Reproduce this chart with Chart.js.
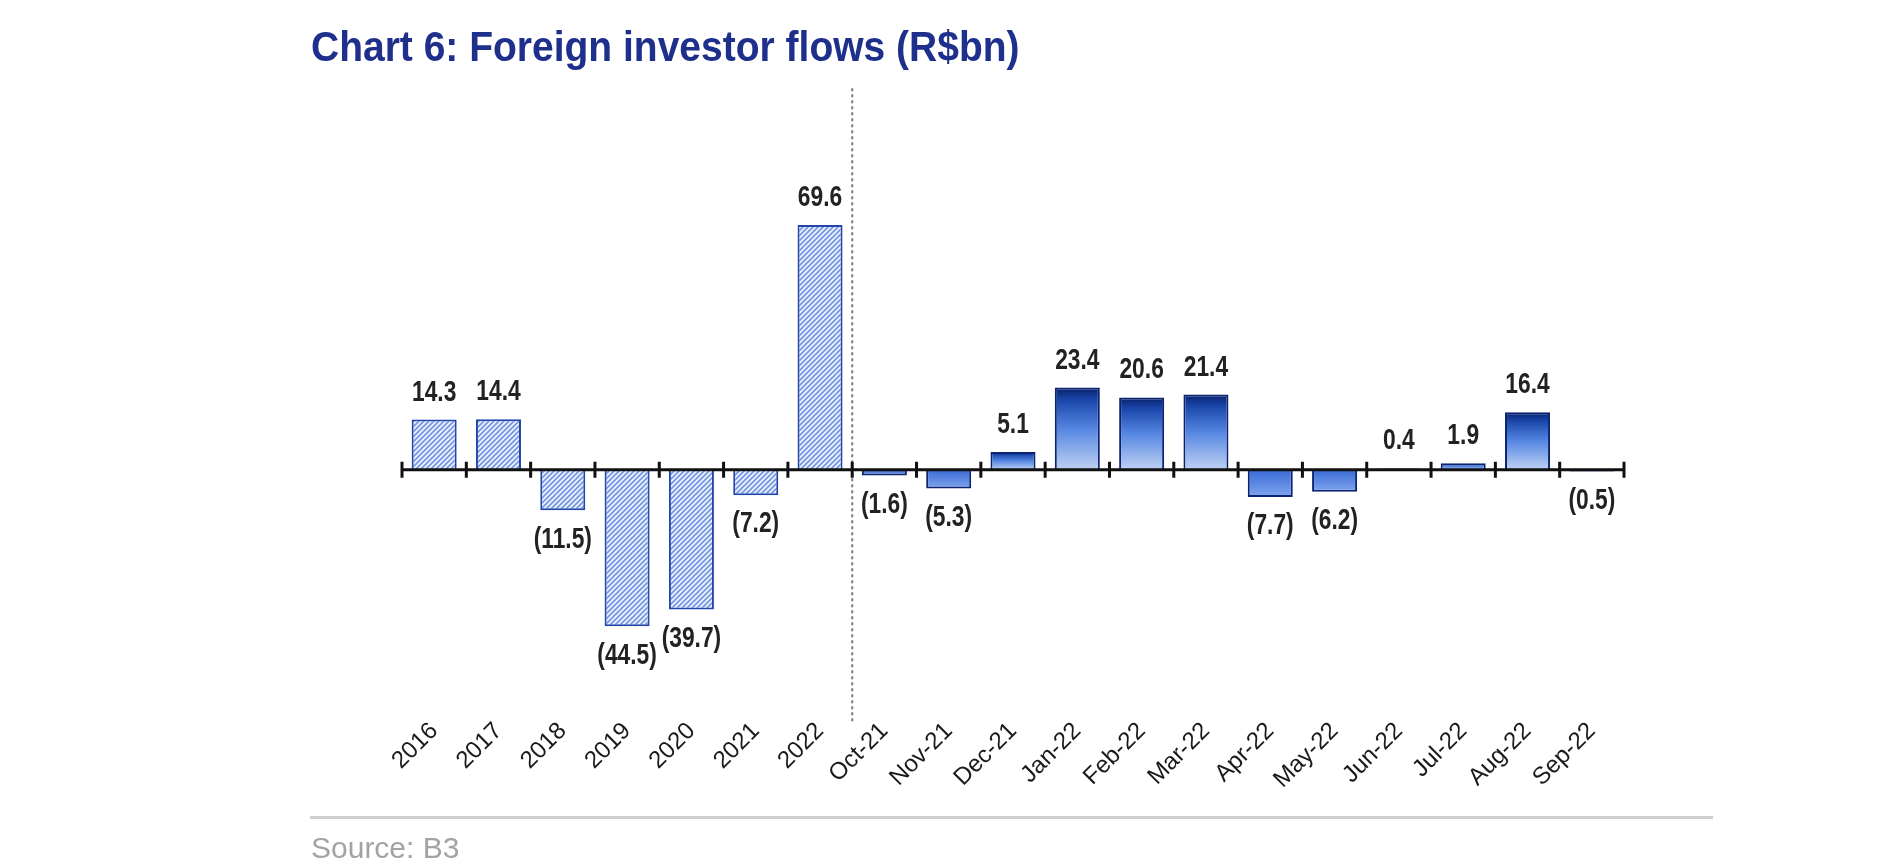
<!DOCTYPE html>
<html>
<head>
<meta charset="utf-8">
<script src="https://cdn.jsdelivr.net/npm/chart.js@4.4.0/dist/chart.umd.min.js"></script>
<style>
    body { margin: 0; background: #fff; font-family: 'Liberation Sans', Arial, sans-serif; }
    #wrap { position: relative; width: 1888px; height: 866px; overflow: hidden; }
    #title { position: absolute; left: 311px; top: 29px; font-size: 39px; line-height: 39px; font-weight: bold; color: #1f2f8c; white-space: nowrap; transform: scaleY(1.1); transform-origin: left bottom; }
    #rule { position: absolute; left: 310px; top: 816px; width: 1403px; height: 3px; background: #cfcfcf; }
    #source { position: absolute; left: 311px; top: 833px; font-size: 30px; line-height: 30px; color: #a3a3a3; white-space: nowrap; }
    canvas { position: absolute; left: 0; top: 0; }
</style>
</head>
<body>
<div id="wrap">
    <canvas id="flowsChart" width="1888" height="866"></canvas>
    <div id="title">Chart 6: Foreign investor flows (R$bn)</div>
    <div id="rule"></div>
    <div id="source">Source: B3</div>
</div>
<script>
        // annual totals first, then the last twelve months
        const annualLabels = ['2016', '2017', '2018', '2019', '2020', '2021', '2022'];
        const annualFlows = [14.3, 14.4, -11.5, -44.5, -39.7, -7.2, 69.6];
        const monthLabels = ['Oct-21', 'Nov-21', 'Dec-21', 'Jan-22', 'Feb-22', 'Mar-22', 'Apr-22', 'May-22', 'Jun-22', 'Jul-22', 'Aug-22', 'Sep-22'];
        const monthFlows = [-1.6, -5.3, 5.1, 23.4, 20.6, 21.4, -7.7, -6.2, 0.4, 1.9, 16.4, -0.5];
        const yMin = -70;
        const yMax = 110;

        const allLabels = annualLabels.concat(monthLabels);
        const allFlows = annualFlows.concat(monthFlows);
        const splitIndex = annualLabels.length;

        // diagonal hatch for the annual bars
        function makeHatch(ctx) {
            const tile = document.createElement('canvas');
            tile.width = 5;
            tile.height = 5;
            const t = tile.getContext('2d');
            t.fillStyle = '#eef3fd';
            t.fillRect(0, 0, 5, 5);
            t.strokeStyle = '#7598e4';
            t.lineWidth = 1.8;
            t.beginPath();
            t.moveTo(-1, 6); t.lineTo(6, -1);
            t.moveTo(-1, 1); t.lineTo(1, -1);
            t.moveTo(4, 6); t.lineTo(6, 4);
            t.stroke();
            return ctx.createPattern(tile, 'repeat');
        }

        function formatFlow(v) {
            return v < 0 ? '(' + Math.abs(v).toFixed(1) + ')' : v.toFixed(1);
        }

        let hatch = null;

        function barFill(context) {
            const chart = context.chart;
            const i = context.dataIndex;
            if (hatch === null) hatch = makeHatch(chart.ctx);
            if (i < splitIndex) return hatch;
            const y = chart.scales.y;
            if (!chart.chartArea || !y) return '#4f7fdc';
            const v = allFlows[i];
            const p0 = y.getPixelForValue(0);
            const p1 = y.getPixelForValue(v);
            if (v >= 0) {
                const g = chart.ctx.createLinearGradient(0, p1, 0, p0);
                g.addColorStop(0, '#08206a');
                g.addColorStop(0.15, '#1a46aa');
                g.addColorStop(0.5, '#5586e2');
                g.addColorStop(1, '#c0d2f3');
                return g;
            }
            const g = chart.ctx.createLinearGradient(0, p0, 0, p1);
            g.addColorStop(0, '#3a6bd6');
            g.addColorStop(1, '#7fa5ee');
            return g;
        }

        // zero axis with boundary ticks, and the dashed divider
        const axisPlugin = {
            id: 'zeroAxis',
            beforeDatasetsDraw(chart) {
                const ctx = chart.ctx;
                const x = chart.scales.x;
                const y = chart.scales.y;
                const half = (x.getPixelForValue(1) - x.getPixelForValue(0)) / 2;
                const xd = x.getPixelForValue(splitIndex) - half;
                ctx.save();
                ctx.strokeStyle = '#7a7a7a';
                ctx.lineWidth = 2;
                ctx.setLineDash([3, 3]);
                ctx.beginPath();
                ctx.moveTo(xd, y.getPixelForValue(yMax - 1.5));
                ctx.lineTo(xd, y.getPixelForValue(yMin - 1.7));
                ctx.stroke();
                ctx.restore();
            },
            afterDatasetsDraw(chart) {
                const ctx = chart.ctx;
                const x = chart.scales.x;
                const y = chart.scales.y;
                const y0 = y.getPixelForValue(0);
                const half = (x.getPixelForValue(1) - x.getPixelForValue(0)) / 2;
                ctx.save();
                ctx.strokeStyle = '#111';
                ctx.lineWidth = 3;
                ctx.beginPath();
                ctx.moveTo(x.left, y0);
                ctx.lineTo(x.right, y0);
                for (let i = 0; i <= allLabels.length; i++) {
                    const tx = x.getPixelForValue(i) - half;
                    ctx.moveTo(tx, y0 - 8);
                    ctx.lineTo(tx, y0 + 8);
                }
                ctx.stroke();

                // value labels
                const meta = chart.getDatasetMeta(0);
                ctx.fillStyle = '#222';
                ctx.font = 'bold 30px "Liberation Sans", Arial, sans-serif';
                ctx.textAlign = 'center';
                meta.data.forEach(function (bar, i) {
                    const v = allFlows[i];
                    ctx.save();
                    if (v >= 0) {
                        ctx.textBaseline = 'alphabetic';
                        ctx.translate(bar.x, bar.y - 19);
                    } else {
                        ctx.textBaseline = 'top';
                        ctx.translate(bar.x, bar.y + 14);
                    }
                    ctx.scale(0.76, 1);
                    ctx.fillText(formatFlow(v), 0, 0);
                    ctx.restore();
                });
                ctx.restore();
            }
        };

        const ctx = document.getElementById('flowsChart').getContext('2d');
        const flowsChart = new Chart(ctx, {
            type: 'bar',
            data: {
                labels: allLabels,
                datasets: [{
                    data: allFlows,
                    backgroundColor: barFill,
                    borderColor: function (c) { return c.dataIndex < splitIndex ? '#2347a8' : '#0a2472'; },
                    borderWidth: 2,
                    categoryPercentage: 1.0,
                    barPercentage: 0.7,
                }],
            },
            options: {
                responsive: false,
                animation: false,
                devicePixelRatio: 1,
                layout: {
                    padding: { left: 402, right: 264, top: 83, bottom: 50 },
                },
                plugins: {
                    legend: { display: false },
                    tooltip: { enabled: false },
                },
                scales: {
                    x: {
                        grid: { display: false, drawTicks: false },
                        border: { display: false },
                        ticks: {
                            autoSkip: false,
                            maxRotation: 45,
                            minRotation: 45,
                            padding: 1,
                            color: '#1a1a1a',
                            font: { family: '"Liberation Sans", Arial, sans-serif', size: 24 },
                        },
                        afterFit: function (scale) { scale.height = 100; },
                    },
                    y: {
                        display: false,
                        min: yMin,
                        max: yMax,
                    },
                },
            },
            plugins: [axisPlugin],
        });
</script>
</body>
</html>
